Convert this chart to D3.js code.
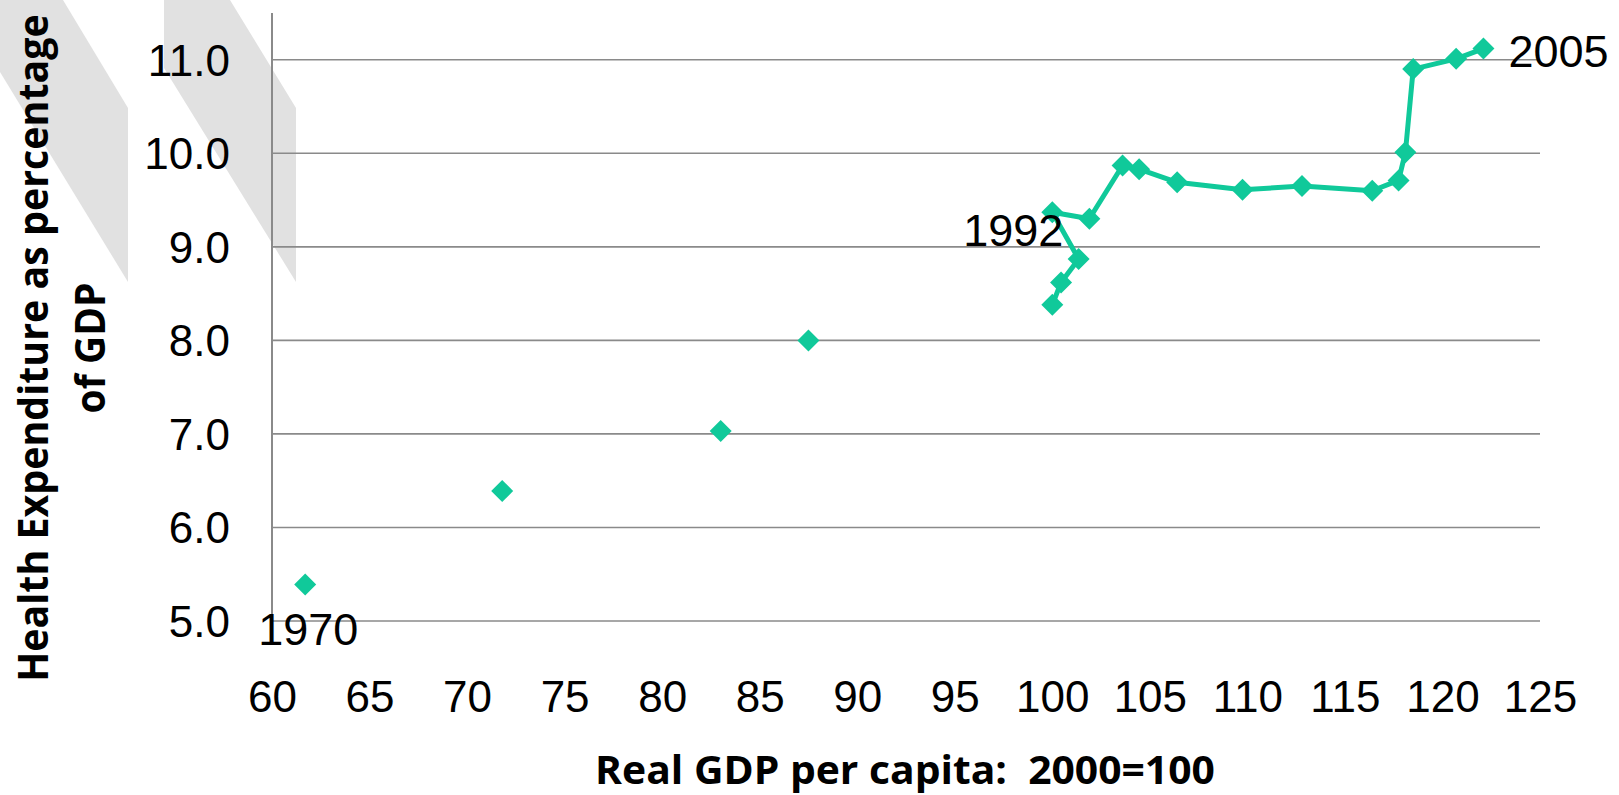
<!DOCTYPE html>
<html>
<head>
<meta charset="utf-8">
<script src="https://cdn.jsdelivr.net/npm/d3@7"></script>
<style>
  html, body { margin: 0; padding: 0; background: #ffffff; }
  svg { display: block; }
</style>
</head>
<body>
<svg id="chart" width="1619" height="795"></svg>
<script>
// ---------------- data ----------------
const scatterYears  = [1970, 1975, 1980, 1985];
const scatterGdp    = [61.7, 71.8, 83.0, 87.5];
const scatterHealth = [5.39, 6.39, 7.03, 8.00];

const lineYears  = [1990, 1991, 1992, 1993, 1994, 1995, 1996, 1997, 1998, 1999, 2000, 2001, 2002, 2003, 2004, 2005];
const lineGdp    = [100.0, 100.45, 101.35, 100.0, 101.9, 103.6, 104.45, 106.4, 109.75, 112.8, 116.4, 117.75, 118.1, 118.5, 120.7, 122.1];
const lineHealth = [8.38, 8.62, 8.87, 9.37, 9.30, 9.87, 9.83, 9.69, 9.61, 9.65, 9.60, 9.71, 10.01, 10.90, 11.01, 11.12];

const annLabels = ["1970", "1992", "2005"];
const annGdp    = [61.7, 100.0, 122.1];
const annHealth = [5.39, 9.37, 11.12];

const xTicks = [60, 65, 70, 75, 80, 85, 90, 95, 100, 105, 110, 115, 120, 125];
const yTicks = [5, 6, 7, 8, 9, 10, 11];

const xTitle = "Real GDP per capita:  2000=100";
const yTitle = ["Health Expenditure as percentage", "of GDP"];

// ---------------- layout ----------------
const svg = d3.select("#chart");
const plotLeft = 272, plotRight = 1540, plotBottom = 621, plotTop = 13;
const x = d3.scaleLinear().domain([60, 125]).range([plotLeft, plotRight]);
const y = d3.scaleLinear().domain([5, 11.5]).range([plotBottom, plotTop]);

const teal = "#10c99a";
const gridColor = "#8a8a8a";

// decorative grey slanted shapes
const shapes = [
  [[0,0],[63,0],[128,108],[128,282],[0,72]],
  [[164,0],[230,0],[296,108],[296,282],[164,68]]
];
svg.append("g").selectAll("polygon").data(shapes).join("polygon")
  .attr("points", d => d.map(p => p.join(",")).join(" "))
  .attr("fill", "#e1e1e1");

// gridlines
svg.append("g").selectAll("line").data(yTicks).join("line")
  .attr("x1", plotLeft).attr("x2", plotRight)
  .attr("y1", d => y(d)).attr("y2", d => y(d))
  .attr("stroke", gridColor).attr("stroke-width", 1.6);

// y axis line
svg.append("line")
  .attr("x1", plotLeft).attr("x2", plotLeft)
  .attr("y1", y(11.5)).attr("y2", y(5))
  .attr("stroke", gridColor).attr("stroke-width", 2);

// y axis labels
const yAxis = svg.append("g").attr("transform", `translate(${plotLeft},0)`)
  .call(d3.axisLeft(y).tickValues(yTicks).tickSize(0).tickFormat(d3.format(".1f")));
yAxis.select(".domain").remove();
yAxis.selectAll("text")
  .attr("x", -42).attr("dy", "0.35em")
  .attr("font-family", "Liberation Sans, Arial, sans-serif")
  .attr("font-size", 44).attr("fill", "#000");

// x axis labels
const xAxis = svg.append("g").attr("transform", `translate(0,${plotBottom})`)
  .call(d3.axisBottom(x).tickValues(xTicks).tickSize(0).tickFormat(d3.format("d")));
xAxis.select(".domain").remove();
xAxis.selectAll("text")
  .attr("y", 91).attr("dy", 0)
  .attr("font-family", "Liberation Sans, Arial, sans-serif")
  .attr("font-size", 44).attr("fill", "#000");

// diamond path
const diamond = "M0,-11L11,0L0,11L-11,0Z";

// scatter points (unconnected)
const scatter = scatterGdp.map((g, i) => ({g, h: scatterHealth[i], yr: scatterYears[i]}));
svg.append("g").selectAll("path").data(scatter).join("path")
  .attr("d", diamond)
  .attr("transform", d => `translate(${x(d.g)},${y(d.h)})`)
  .attr("fill", teal);

// connected series
const series = lineGdp.map((g, i) => ({g, h: lineHealth[i], yr: lineYears[i]}));
svg.append("path").datum(series)
  .attr("d", d3.line().x(d => x(d.g)).y(d => y(d.h)))
  .attr("fill", "none").attr("stroke", teal).attr("stroke-width", 5)
  .attr("stroke-linejoin", "round");
svg.append("g").selectAll("path").data(series).join("path")
  .attr("d", diamond)
  .attr("transform", d => `translate(${x(d.g)},${y(d.h)})`)
  .attr("fill", teal);

// annotations
const annOffsets = [[-47, 60, "start"], [11, 34, "end"], [25, 18, "start"]];
svg.append("g").selectAll("text").data(annLabels).join("text")
  .attr("x", (d, i) => x(annGdp[i]) + annOffsets[i][0])
  .attr("y", (d, i) => y(annHealth[i]) + annOffsets[i][1])
  .attr("text-anchor", (d, i) => annOffsets[i][2])
  .attr("font-family", "Liberation Sans, Arial, sans-serif")
  .attr("font-size", 45).attr("fill", "#000")
  .text(d => d);

// axis titles (condensed horizontally to mimic a narrow bold face)
function condensedText(parent, str, yPos, size, targetLen) {
  const t = parent.append("text")
    .attr("x", 0).attr("y", yPos)
    .attr("text-anchor", "middle")
    .style("white-space", "pre")
    .attr("font-family", "Open Sans, sans-serif").attr("font-weight", "bold")
    .attr("font-size", size).attr("fill", "#000")
    .text(str);
  const w = t.node().getComputedTextLength();
  if (w > 0) t.attr("transform", `scale(${targetLen / w},1)`);
  return t;
}

const xt = svg.append("g").attr("transform", "translate(905,0)");
condensedText(xt, xTitle, 784, 40, 620);

const yt = svg.append("g").attr("transform", "translate(0,348) rotate(-90)");
condensedText(yt, yTitle[0], 48, 42, 668);
condensedText(yt, yTitle[1], 105, 42, 131);
</script>
</body>
</html>
